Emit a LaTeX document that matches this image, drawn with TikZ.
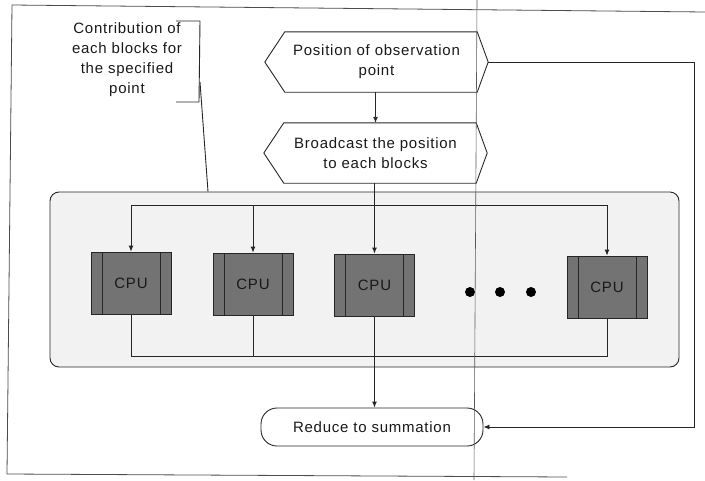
\documentclass[tikz,border=0pt]{standalone}
\usepackage{fontspec}
\setmainfont{Liberation Sans}[LetterSpace=5]
\usetikzlibrary{arrows.meta,calc}
\newcommand\hexdraw[1]{%
  \draw[ln] (#1.west) -- ([xshift=20pt]#1.north west) -- ([xshift=-11pt]#1.north east)
    -- (#1.east) -- ([xshift=-11pt]#1.south east) -- ([xshift=20pt]#1.south west) -- cycle;}
\begin{document}
\begin{tikzpicture}[x=1pt,y=-1pt,
  ln/.style={line width=0.9pt,draw=black!85},
  arr/.style={ln,-{Latex[length=6pt,width=5pt]}},
  frame/.style={line width=0.8pt,draw=black!70},
  txt/.style={font=\fontsize{15}{20}\selectfont,align=center,text=black!90},
  hexb/.style={txt,minimum width=223pt,minimum height=60pt,inner sep=0pt},
  cpu/.style={ln,fill=black!55,minimum width=80pt,minimum height=62pt,inner sep=0pt,
    font=\fontsize{15}{18}\selectfont,text=black!90,
    path picture={\draw[ln] ([xshift=11pt]path picture bounding box.north west) -- ([xshift=11pt]path picture bounding box.south west);
                  \draw[ln] ([xshift=-11pt]path picture bounding box.north east) -- ([xshift=-11pt]path picture bounding box.south east);}},
  dotc/.style={circle,fill=black,minimum size=10pt,inner sep=0pt},
  contb/.style={ln,fill=black!5,rounded corners=9pt,minimum width=629pt,minimum height=175pt,inner sep=0pt},
  redb/.style={ln,txt,rounded corners=16pt,minimum width=222pt,minimum height=38pt,inner sep=0pt}
]
\useasboundingbox (0,0) rectangle (705,480);
% scan frame
\coordinate (ftl) at (12,5);
\coordinate (ftr) at (705,12);
\coordinate (fbl) at (7,474);
\coordinate (fbr) at (567,477);
\draw[frame] (ftr) -- (ftl) -- (fbl) -- (fbr);

% container
\node[contb] (cont) at (364.5,279.5) {};

% callout
\node[txt] (call) at (127,60) {Contribution of\\each blocks for\\the specified\\point};
\coordinate (bt1) at (176,21);
\coordinate (bt2) at (200,21);
\coordinate (bb2) at (199,102);
\coordinate (bb1) at (176,102);
\coordinate (br) at (200,82);
\draw[ln] (bt1) -- (bt2) -- (bb2) -- (bb1);
\draw[ln] (br) -- ([xshift=-156.5pt]cont.north);

% hexagons
\node[hexb] (h1) at (376.5,62) {Position of observation\\point};
\hexdraw{h1}
\node[hexb] (h2) at (375.5,153) {Broadcast the position\\to each blocks};
\hexdraw{h2}
\draw[arr] (h1.south -| h2.south) -- (h2.north -| h2.south);

% CPUs
\node[cpu] (c1) at (131,283) {CPU};
\node[cpu] (c2) at (253,284) {CPU};
\node[cpu] (c3) at (374.5,285) {CPU};
\node[cpu] (c4) at (607,287) {CPU};
\node[dotc] (d1) at (470,292) {};
\node[dotc] (d2) at (500,292) {};
\node[dotc] (d3) at (531,292) {};

% top bus
\coordinate (tb) at (374,205);
\draw[arr] (h2.south -| c3.north) -- (c3.north);
\draw[ln] (c1.north |- tb) -- (c4.north |- tb);
\draw[arr] (c1.north |- tb) -- (c1.north);
\draw[arr] (c2.north |- tb) -- (c2.north);
\draw[arr] (c4.north |- tb) -- (c4.north);

% bottom bus
\coordinate (bbus) at (374,356);
\draw[ln] (c1.south) -- (c1.south |- bbus) -- (c4.south |- bbus) -- (c4.south);
\draw[ln] (c2.south) -- (c2.south |- bbus);

% reduce
\node[redb] (red) at (372,427) {Reduce to summation};
\draw[arr] (c3.south) -- (c3.south |- red.north);

% right loop
\coordinate (rc) at (694,64);
\draw[arr] (h1.east) -- (h1.east -| rc) -- (rc |- red.east) -- (red.east);

% scan fold line on top
\coordinate (vt) at (477,0);
\coordinate (vb) at (474,480);
\draw[line width=0.6pt,draw=black!65] (vt) -- (vb);
\end{tikzpicture}
\end{document}
